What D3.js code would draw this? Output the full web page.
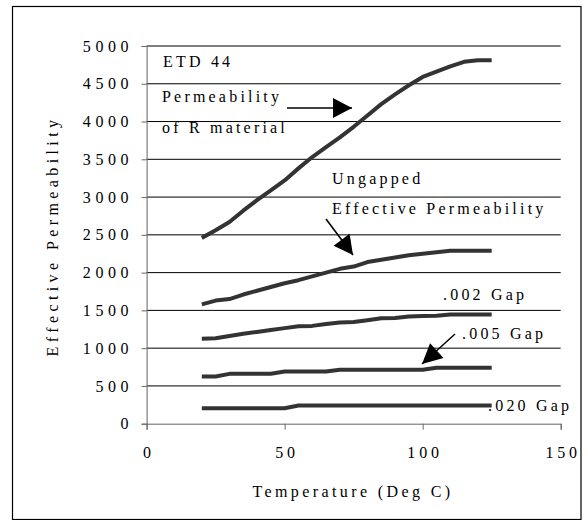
<!DOCTYPE html>
<html>
<head>
<meta charset="utf-8">
<script src="https://cdn.jsdelivr.net/npm/d3@7"></script>
<style>
  html, body { margin: 0; padding: 0; background: #fff; }
  svg { display: block; }
  svg text { font-family: "Liberation Serif", Tinos, "Times New Roman", Times, "DejaVu Serif", serif !important; fill: #000; }
</style>
</head>
<body>
<svg id="chart" width="585" height="520"></svg>
<script>
// ---- data ----
const temps = [20,25,30,35,40,45,50,55,60,65,70,75,80,85,90,95,100,105,110,115,120,125];
const permR     = [2460,2560,2670,2820,2960,3090,3220,3380,3530,3660,3790,3930,4080,4230,4360,4480,4590,4660,4730,4790,4810,4810];
const ungapped  = [1580,1630,1650,1710,1760,1810,1860,1900,1950,2000,2050,2080,2140,2170,2200,2230,2250,2270,2290,2290,2290,2290];
const gap002    = [1125,1130,1160,1190,1215,1240,1265,1290,1295,1320,1340,1345,1370,1395,1400,1420,1425,1430,1445,1445,1445,1445];
const gap005    = [625,625,660,660,660,660,690,690,690,690,715,715,715,715,715,715,715,740,740,740,740,740];
const gap020    = [205,205,205,205,205,205,205,240,240,240,240,240,240,240,240,240,240,240,240,240,240,240];
const xTicks = [0,50,100,150];
const yTicks = [0,500,1000,1500,2000,2500,3000,3500,4000,4500,5000];
const xTitle = "Temperature (Deg C)";
const yTitle = "Effective Permeability";

const FONT = '"Liberation Serif", Tinos, "Times New Roman", Times, "DejaVu Serif", serif';

const svg = d3.select("#chart");
svg.append("rect").attr("x",12.5).attr("y",6.5).attr("width",568.5).attr("height",513)
  .attr("fill","none").attr("stroke","#000").attr("stroke-width",1.2);

const x = d3.scaleLinear().domain([0,150]).range([146.6,560.7]);
const y = d3.scaleLinear().domain([0,5000]).range([423.7,46]);

// gridlines
svg.append("g").selectAll("line").data(yTicks.filter(d=>d>0)).join("line")
  .attr("x1",x(0)).attr("x2",x(150))
  .attr("y1",d=>y(d)).attr("y2",d=>y(d))
  .attr("stroke","#000").attr("stroke-width",1);

// y axis
const yAxis = svg.append("g").attr("transform",`translate(${x(0)},0)`)
  .call(d3.axisLeft(y).tickValues(yTicks).tickSize(5).tickPadding(13).tickFormat(d3.format("d")));
yAxis.attr("font-family",FONT);
yAxis.select(".domain").attr("stroke","#666");
yAxis.selectAll(".tick line").attr("stroke","#666");
yAxis.selectAll("text").attr("font-size",16).attr("letter-spacing","4.6px")
  .attr("dx","4.6px");

// x axis
const xAxis = svg.append("g").attr("transform",`translate(0,${y(0)})`)
  .call(d3.axisBottom(x).tickValues(xTicks).tickSize(6).tickPadding(17).tickFormat(d3.format("d")));
xAxis.attr("font-family",FONT);
xAxis.select(".domain").attr("stroke","#666");
xAxis.selectAll(".tick line").attr("stroke","#666");
xAxis.selectAll("text").attr("font-size",16).attr("letter-spacing","3.8px")
  .attr("dx","1.9px");

// titles
svg.append("text").attr("x",353).attr("y",497).attr("text-anchor","middle")
  .attr("font-size",16).attr("letter-spacing","3.4px").text(xTitle);
svg.append("text").attr("transform","translate(58,236) rotate(-90)").attr("text-anchor","middle")
  .attr("font-size",16).attr("letter-spacing","4.4px").text(yTitle);

// series
const line = d3.line().x((d,i)=>x(temps[i])).y(d=>y(d));
[permR, ungapped, gap002, gap005, gap020].forEach(s => {
  svg.append("path").attr("d", line(s)).attr("fill","none")
    .attr("stroke","#333").attr("stroke-width",4).attr("stroke-linejoin","round");
});

// annotations
const ann = [
  {t:"ETD 44", x:163, y:67},
  {t:"Permeability", x:162, y:102},
  {t:"of R material", x:162, y:133},
  {t:"Ungapped", x:332, y:184},
  {t:"Effective Permeability", x:332, y:214},
  {t:".002 Gap", x:443, y:300},
  {t:".005 Gap", x:462, y:339},
  {t:".020 Gap", x:488, y:411}
];
svg.append("g").selectAll("text").data(ann).join("text")
  .attr("x",d=>d.x).attr("y",d=>d.y).attr("font-size",16).attr("letter-spacing","3.2px")
  .text(d=>d.t);

// arrows: line + triangular head
function arrow(x1,y1,x2,y2,len,half){
  svg.append("line").attr("x1",x1).attr("y1",y1).attr("x2",x2).attr("y2",y2)
    .attr("stroke","#000").attr("stroke-width",1.5);
  const a = Math.atan2(y2-y1,x2-x1);
  const bx = x2 - len*Math.cos(a), by = y2 - len*Math.sin(a);
  const px = -Math.sin(a)*half, py = Math.cos(a)*half;
  svg.append("path").attr("d",`M${x2},${y2}L${bx+px},${by+py}L${bx-px},${by-py}Z`).attr("fill","#000");
}
arrow(287,108,352,108,19,10);
arrow(326,219,353,255,19,10);
arrow(455,334,422,364,20,10);
</script>
</body>
</html>
